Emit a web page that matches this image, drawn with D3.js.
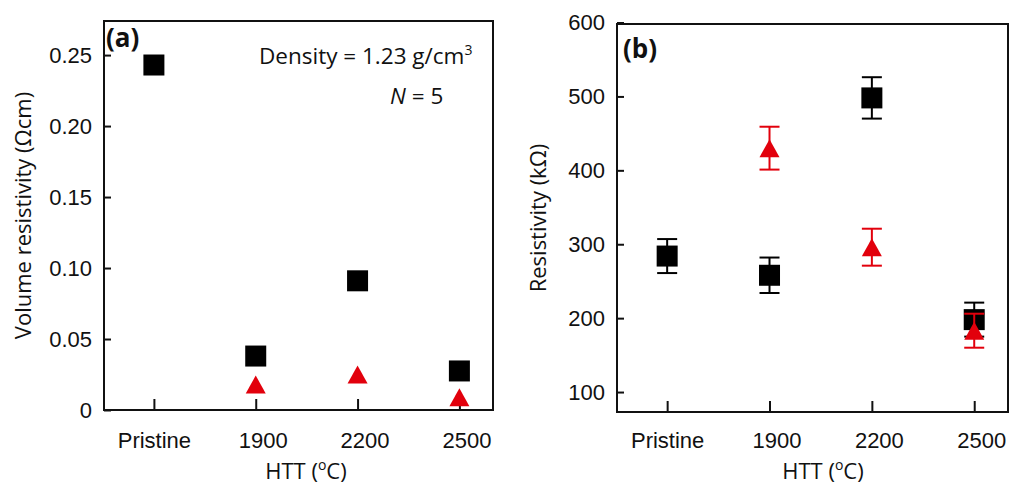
<!DOCTYPE html>
<html>
<head>
<meta charset="utf-8">
<script src="https://cdn.jsdelivr.net/npm/d3@7"></script>
<style>
  body { margin: 0; background: #fff; }
  svg { display: block; font-family: "Open Sans", "Liberation Sans", sans-serif; fill: #111; }
  .axis text { font-size: 22px; fill: #111; }
  .axis line { stroke: #111; stroke-width: 2; }
</style>
</head>
<body>
<svg id="chart" width="1009" height="487"></svg>
<script>
// data
var categories = ["Pristine", "1900", "2200", "2500"];

var volSquares = [0.243, 0.038, 0.091, 0.0275];
var volTriangles = [null, 0.018, 0.025, 0.009];
var volTicks = [0, 0.05, 0.10, 0.15, 0.20, 0.25];

var resSquares = [284, 258, 498, 198];
var resSquareErr = [23, 24, 28, 23];
var resTriangles = [null, 430, 296, 183];
var resTriangleErr = [null, 29, 25, 23];
var resTicks = [100, 200, 300, 400, 500, 600];

var red = "#e2000c";

var svg = d3.select("#chart");

function drawPanel(opts) {
  var m = opts.box,
      g = svg.append("g");

  var x = d3.scaleLinear().domain([-0.49, 3.33]).range([m.left, m.right]),
      y = d3.scaleLinear().domain(opts.yDomain).range([m.bottom, m.top]);

  // y axis, ticks pointing inward
  g.append("g")
      .attr("class", "axis")
      .attr("transform", "translate(" + m.left + ",0)")
      .call(d3.axisLeft(y).tickValues(opts.yTicks).tickSize(-7).tickPadding(12).tickFormat(opts.yFormat))
    .select(".domain").remove();

  var xAxis = g.append("g")
      .attr("class", "axis")
      .attr("transform", "translate(0," + m.bottom + ")")
      .call(d3.axisBottom(x).tickValues([0, 1, 2, 3]).tickSize(-11).tickPadding(opts.xPad)
        .tickFormat(function(i) { return categories[i]; }));
  xAxis.select(".domain").remove();
  xAxis.selectAll(".tick text").attr("dx", function(i) { return i > 0 ? 7 : 0; });

  // frame
  g.append("rect")
      .attr("x", m.left).attr("y", m.top)
      .attr("width", m.right - m.left).attr("height", m.bottom - m.top)
      .attr("fill", "none").attr("stroke", "#111").attr("stroke-width", 2);

  // axis titles
  g.append("text")
      .attr("transform", "translate(" + opts.yTitleX + "," + ((m.top + m.bottom) / 2) + ") rotate(-90)")
      .attr("text-anchor", "middle")
      .attr("dy", "0.35em")
      .style("font-size", "22px")
      .text(opts.yTitle);

  var xt = g.append("text")
      .attr("x", opts.xTitleX).attr("y", 479)
      .attr("text-anchor", "middle")
      .style("font-size", "22px");
  xt.append("tspan").text("HTT (");
  xt.append("tspan").attr("dy", -9).style("font-size", "14px").text("o");
  xt.append("tspan").attr("dy", 9).text("C)");

  g.append("text")
      .attr("x", opts.labelX).attr("y", opts.labelY)
      .style("font-size", "26px").style("font-weight", "bold")
      .text(opts.label);

  function errBars(vals, errs, color) {
    var eb = g.append("g").attr("stroke", color).attr("stroke-width", 2);
    vals.forEach(function(v, i) {
      if (v == null || errs == null) return;
      var cx = x(i), y0 = y(v - errs[i]), y1 = y(v + errs[i]);
      eb.append("line").attr("x1", cx).attr("x2", cx).attr("y1", y0).attr("y2", y1);
      eb.append("line").attr("x1", cx - 10).attr("x2", cx + 10).attr("y1", y0).attr("y2", y0);
      eb.append("line").attr("x1", cx - 10).attr("x2", cx + 10).attr("y1", y1).attr("y2", y1);
    });
  }

  // squares
  errBars(opts.squares, opts.squareErr, "#000");
  g.selectAll(".sq")
    .data(opts.squares.map(function(v, i) { return {i: i, v: v}; }).filter(function(d) { return d.v != null; }))
    .enter().append("rect")
      .attr("class", "sq")
      .attr("x", function(d) { return x(d.i) - 10.5; })
      .attr("y", function(d) { return y(d.v) - 10.5; })
      .attr("width", 21).attr("height", 21)
      .attr("fill", "#000");

  // triangles
  errBars(opts.triangles, opts.triangleErr, red);
  g.selectAll(".tri")
    .data(opts.triangles.map(function(v, i) { return {i: i, v: v}; }).filter(function(d) { return d.v != null; }))
    .enter().append("path")
      .attr("class", "tri")
      .attr("d", function(d) {
        var cx = x(d.i), cy = y(d.v);
        return "M" + (cx - 10) + "," + (cy + 9) + "L" + (cx + 10) + "," + (cy + 9) + "L" + cx + "," + (cy - 9) + "Z";
      })
      .attr("fill", red);

  return g;
}

var ga = drawPanel({
  box: {left: 104, right: 493, top: 21, bottom: 410},
  yDomain: [0, 0.274],
  yTicks: volTicks,
  yFormat: function(d) { return d === 0 ? "0" : d3.format(".2f")(d); },
  xPad: 22,
  yTitle: "Volume resistivity (Ωcm)",
  yTitleX: 23,
  xTitleX: 306,
  label: "(a)", labelX: 106, labelY: 47,
  squares: volSquares, squareErr: null,
  triangles: volTriangles, triangleErr: null
});

var ann = ga.append("text").attr("x", 259).attr("y", 64).style("font-size", "22.5px");
ann.append("tspan").text("Density = 1.23 g/cm");
ann.append("tspan").attr("dy", -9).style("font-size", "14px").text("3");
var nt = ga.append("text").attr("x", 390).attr("y", 104).style("font-size", "22.5px");
nt.append("tspan").style("font-style", "italic").text("N");
nt.append("tspan").text(" = 5");

drawPanel({
  box: {left: 617, right: 1008, top: 24, bottom: 412},
  yDomain: [73, 598],
  yTicks: resTicks,
  yFormat: d3.format("d"),
  xPad: 20,
  yTitle: "Resistivity (kΩ)",
  yTitleX: 538,
  xTitleX: 823,
  label: "(b)", labelX: 623, labelY: 58,
  squares: resSquares, squareErr: resSquareErr,
  triangles: resTriangles, triangleErr: resTriangleErr
});
</script>
</body>
</html>
